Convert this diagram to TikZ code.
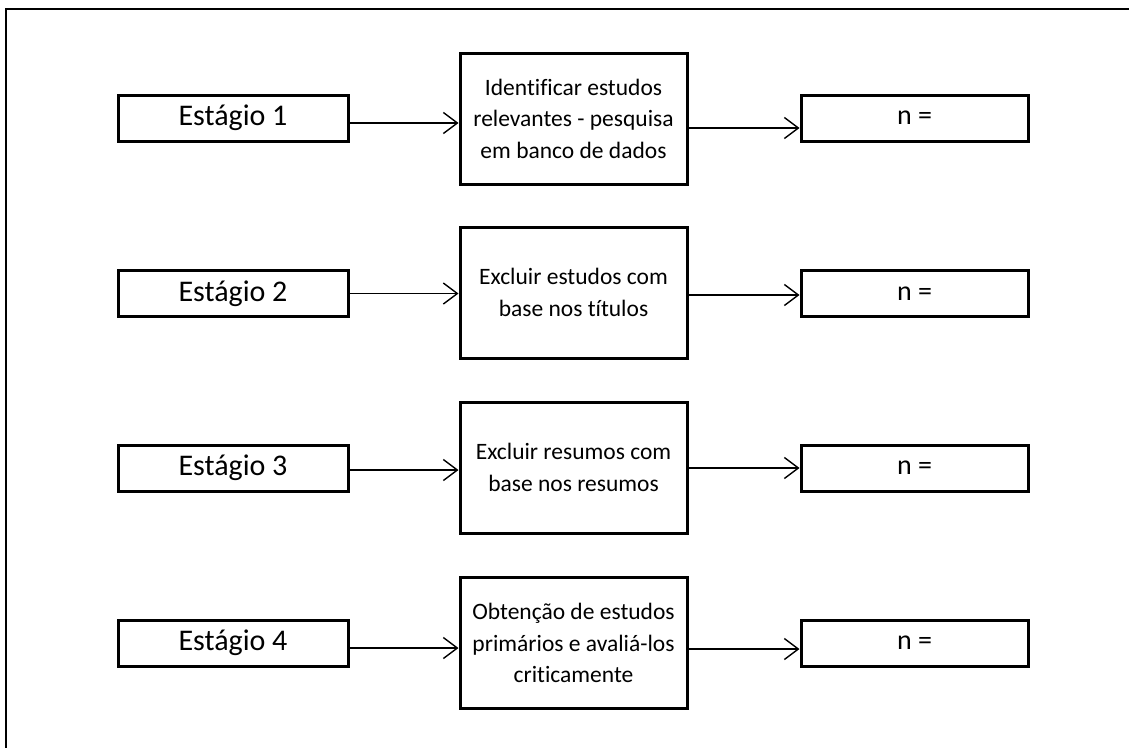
\documentclass[tikz,border=0pt]{standalone}
\usepackage{fontspec}
\setmainfont{Carlito}[Ligatures=NoCommon]
\usetikzlibrary{arrows.meta}
\begin{document}
\begin{tikzpicture}[x=1pt,y=-1pt,
  stagebox/.style={draw, line width=3pt, minimum width=230pt, minimum height=46pt,
    inner sep=0pt, font=\fontsize{30}{32}\selectfont},
  taskbox/.style={draw, line width=3pt, minimum width=227pt, minimum height=131pt,
    inner sep=0pt, align=center, font=\fontsize{23.5}{31.5}\selectfont},
  countbox/.style={draw, line width=3pt, minimum width=227pt, minimum height=46pt,
    inner sep=0pt, font=\fontsize{28}{30}\selectfont},
  flow/.style={line width=1.4pt, -{Straight Barb[length=14pt,width=21pt,line width=1.4pt]}}]
\useasboundingbox (0,0) rectangle (1129,747);
\clip (0,0) rectangle (1129,747);
% outer frame
\draw[line width=1.5pt] (6,9) rectangle (1140,760);

% stage 1
\node[stagebox] (s1) at (233,118) {Estágio 1};
\node[taskbox] (m1) at (573.5,118.5) {Identificar estudos\\relevantes - pesquisa\\em banco de dados};
\node[countbox] (n1) at (914.5,118) {n =};
% stage 2
\node[stagebox] (s2) at (233,293.5) {Estágio 2};
\node[taskbox] (m2) at (573.5,292.5) {Excluir estudos com\\base nos títulos};
\node[countbox] (n2) at (914.5,293.5) {n =};
% stage 3
\node[stagebox] (s3) at (233,468) {Estágio 3};
\node[taskbox] (m3) at (573.5,467.5) {Excluir resumos com\\base nos resumos};
\node[countbox] (n3) at (914.5,468) {n =};
% stage 4
\node[stagebox] (s4) at (233,643) {Estágio 4};
\node[taskbox] (m4) at (573.5,643) {Obtenção de estudos\\primários e avaliá-los\\criticamente};
\node[countbox] (n4) at (914.5,643) {n =};

% connectors
\draw[flow] ([yshift=-5pt]s1.east) -- ([yshift=-5pt]s1.east -| m1.west);
\draw[flow] ([yshift=-9.5pt]m1.east) -- ([yshift=-9.5pt]m1.east -| n1.west);
\draw[flow] (s2.east) -- (s2.east -| m2.west);
\draw[flow] ([yshift=-2.5pt]m2.east) -- ([yshift=-2.5pt]m2.east -| n2.west);
\draw[flow] ([yshift=-2pt]s3.east) -- ([yshift=-2pt]s3.east -| m3.west);
\draw[flow] ([yshift=-0.5pt]m3.east) -- ([yshift=-0.5pt]m3.east -| n3.west);
\draw[flow] ([yshift=-5pt]s4.east) -- ([yshift=-5pt]s4.east -| m4.west);
\draw[flow] ([yshift=-6pt]m4.east) -- ([yshift=-6pt]m4.east -| n4.west);
\end{tikzpicture}
\end{document}
